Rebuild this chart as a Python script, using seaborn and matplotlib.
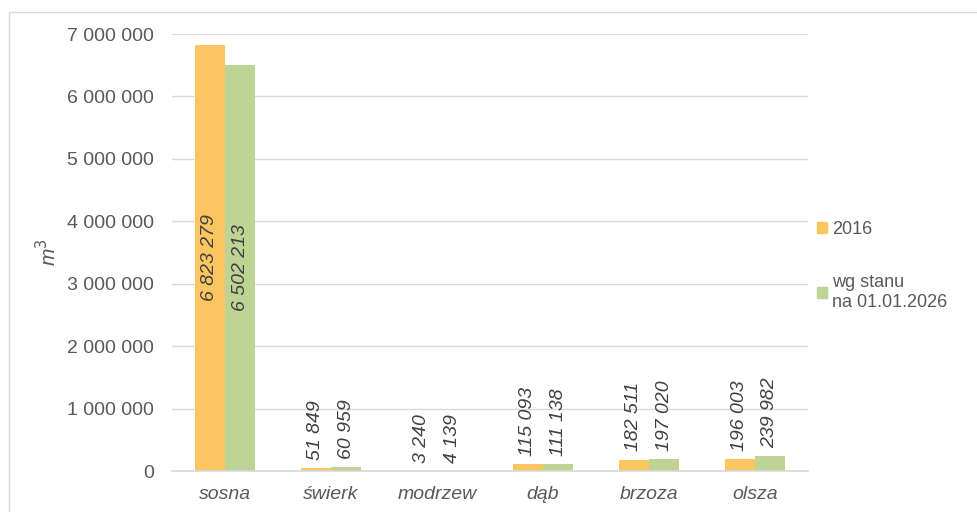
import matplotlib
matplotlib.use("Agg")
import matplotlib.pyplot as plt
import matplotlib.patches as mpatches
import seaborn as sns
import pandas as pd

categories = ["sosna", "świerk", "modrzew", "dąb", "brzoza", "olsza"]
series_names = ["2016", "wg stanu\nna 01.01.2026"]
values_2016 = [6823279, 51849, 3240, 115093, 182511, 196003]
values_2026 = [6502213, 60959, 4139, 111138, 197020, 239982]
yticks = [0, 1000000, 2000000, 3000000, 4000000, 5000000, 6000000, 7000000]

colors = ["#FBC55F", "#BDD494"]

def fmt(v):
    return f"{v:,}".replace(",", " ")

df = pd.DataFrame({
    "cat": categories * 2,
    "series": [series_names[0]] * len(categories) + [series_names[1]] * len(categories),
    "value": values_2016 + values_2026,
})

sns.set_theme(style="white")
plt.rcParams["font.family"] = ["Liberation Sans", "DejaVu Sans"]

fig = plt.figure(figsize=(9.78, 5.12), dpi=100)
ax = fig.add_axes([172 / 978, 1 - 471 / 512, (808 - 172) / 978, (471 - 34) / 512])

sns.barplot(data=df, x="cat", y="value", hue="series", palette=colors,
            width=0.57, ax=ax, saturation=1, legend=True, gap=0, linewidth=0)

ax.set_ylim(0, 7000000)
ax.set_yticks(yticks)
ax.set_yticklabels([fmt(t) for t in yticks], color="#595959", fontsize=14)
ax.grid(axis="y", color="#D9D9D9", linewidth=1)
ax.set_axisbelow(True)
for s in ["top", "right", "left"]:
    ax.spines[s].set_visible(False)
ax.spines["bottom"].set_color("#D9D9D9")
ax.tick_params(axis="y", length=0, pad=13)
ax.tick_params(axis="x", length=0, pad=11)
ax.set_xticks(range(len(categories)))
ax.set_xticklabels(categories, color="#595959", fontsize=14, style="italic")
ax.set_xlabel("")
ax.set_ylabel("m$^3$", color="#595959", fontsize=15, style="italic", labelpad=5)

for cont, vals in zip(ax.containers, [values_2016, values_2026]):
    for bar, v in zip(cont, vals):
        x = bar.get_x() + bar.get_width() / 2
        h = bar.get_height()
        if h > 3000000:
            ax.text(x, h / 2, fmt(v), rotation=90, ha="center", va="center",
                    fontsize=14, style="italic", color="#404040")
        else:
            ax.text(x, h + 130000, fmt(v), rotation=90, ha="center", va="bottom",
                    fontsize=14, style="italic", color="#404040")

handles = [mpatches.Patch(color=c) for c in colors]
leg = ax.legend(handles, series_names, loc="upper left",
                bbox_to_anchor=(817 / 978, 1 - 221 / 512), bbox_transform=fig.transFigure,
                frameon=False, fontsize=13, handlelength=0.55, handleheight=0.55,
                handletextpad=0.3, labelspacing=2.0, alignment="left",
                borderpad=0, borderaxespad=0)
for t in leg.get_texts():
    t.set_color("#595959")

border = mpatches.Rectangle((9 / 978, -0.1), 1.1, 1 - 12 / 512 + 0.1,
                            transform=fig.transFigure, fill=False,
                            edgecolor="#D9D9D9", linewidth=1)
fig.patches.append(border)

fig.savefig("out.png", dpi=100)
